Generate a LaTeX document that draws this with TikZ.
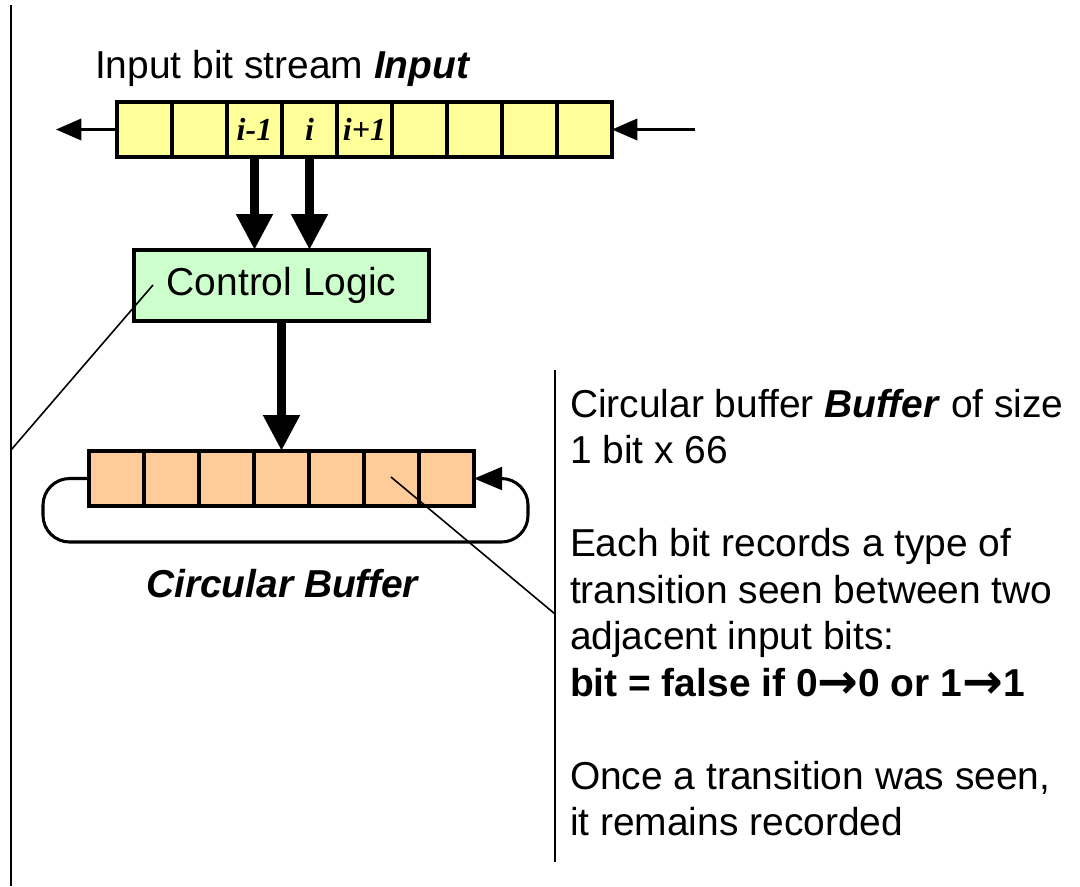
\documentclass[tikz,border=0pt]{standalone}
\usepackage{fontspec}
\usepackage{graphicx}
\setmainfont{Liberation Sans}
\newfontfamily\serifbi{Liberation Serif}
\newfontfamily\arrowfont{DejaVu Sans}
\usetikzlibrary{arrows.meta}
\definecolor{inyellow}{HTML}{FFFF99}
\definecolor{clgreen}{HTML}{CCFFCC}
\definecolor{buforange}{HTML}{FFCC99}
\newcommand{\bigto}{\raisebox{-0.06em}{\scalebox{1.25}{\arrowfont\bfseries →}}}
\begin{document}
\begin{tikzpicture}[x=0.75pt,y=-0.75pt,
  txt/.style={font=\fontsize{29.2}{34}\selectfont, inner sep=0pt, outer sep=0pt},
  incell/.style={draw, line width=2.3pt, fill=inyellow, minimum width=41.25pt, minimum height=41.25pt, inner sep=0pt, outer sep=0pt, font=\serifbi\bfseries\itshape\fontsize{24}{24}\selectfont},
  bufcell/.style={draw, line width=2.3pt, fill=buforange, minimum width=41.25pt, minimum height=41.25pt, inner sep=0pt, outer sep=0pt},
  ctrlbox/.style={draw, line width=2.3pt, fill=clgreen, minimum width=221.25pt, minimum height=53.25pt, inner sep=0pt, outer sep=0pt, font=\fontsize{29.2}{34}\selectfont},
  bigarrow/.style={line width=6.75pt, -{Triangle[length=27pt,width=26pt]}},
  smallarrow/.style={line width=2pt, -{Triangle[length=19pt,width=16pt]}},
  thinline/.style={line width=1.2pt},
  rule/.style={line width=1.5pt},
]
\useasboundingbox (0,0) rectangle (1080,886);

% vertical separator lines
\coordinate (vl1) at (11,5);
\coordinate (vl2) at (11,886);
\coordinate (vr1) at (555,370);
\coordinate (vr2) at (555,862);
\draw[rule] (vl1) -- (vl2);
\draw[rule] (vr1) -- (vr2);

% input stream
\node[txt, anchor=base west] (title) at (95,78) {Input bit stream \textbf{\textit{Input}}};
\foreach \k/\lab in {1/,2/,3/i-1,4/i,5/i+1,6/,7/,8/,9/}
  \node[incell] (c\k) at ({89.5+55*\k},129.5) {\lab};
\coordinate (lend) at (56,129.5);
\coordinate (rstart) at (695,129.5);
\draw[smallarrow] (c1.west) -- (lend);
\draw[smallarrow] (rstart) -- (c9.east);

% control logic
\node[ctrlbox] (cl) at (281.5,285.5) {Control Logic};
\draw[bigarrow] (c3.south) -- (c3.south |- cl.north);
\draw[bigarrow] (c4.south) -- (c4.south |- cl.north);

% circular buffer
\foreach \k in {1,...,7}
  \node[bufcell] (b\k) at ({61.5+55*\k},478.5) {};
\draw[bigarrow] (cl.south) -- (b4.north);
\draw[line width=2.3pt, rounded corners=20pt, -{Triangle[length=21pt,width=17pt]}]
  (b1.west) -- (43,478.5) -- (43,542) -- (528,542) -- (528,478.5) -- (b7.east);
\node[txt, anchor=base] (cbuf) at (283,597) {\textbf{\textit{Circular Buffer}}};

% callout lines
\coordinate (p1) at (153,285);
\coordinate (q1) at (11,450);
\draw[thinline] (p1) -- (q1);
\coordinate (p2) at (391,477);
\coordinate (q2) at (555,614);
\draw[thinline] (p2) -- (q2);

% description text
\node[txt, anchor=base west] (t1) at (570,417) {Circular buffer \textbf{\textit{Buffer}} of size};
\node[txt, anchor=base west] (t2) at (570,463.4) {1 bit x 66};
\node[txt, anchor=base west] (t3) at (570,556.8) {Each bit records a type of};
\node[txt, anchor=base west] (t4) at (570,603.2) {transition seen between two};
\node[txt, anchor=base west] (t5) at (570,649.6) {adjacent input bits:};
\node[txt, anchor=base west] (t6) at (570,696) {\textbf{bit = false if 0\bigto0 or 1\bigto1}};
\node[txt, anchor=base west] (t7) at (570,789.6) {Once a transition was seen,};
\node[txt, anchor=base west] (t8) at (570,835) {it remains recorded};
\end{tikzpicture}
\end{document}
